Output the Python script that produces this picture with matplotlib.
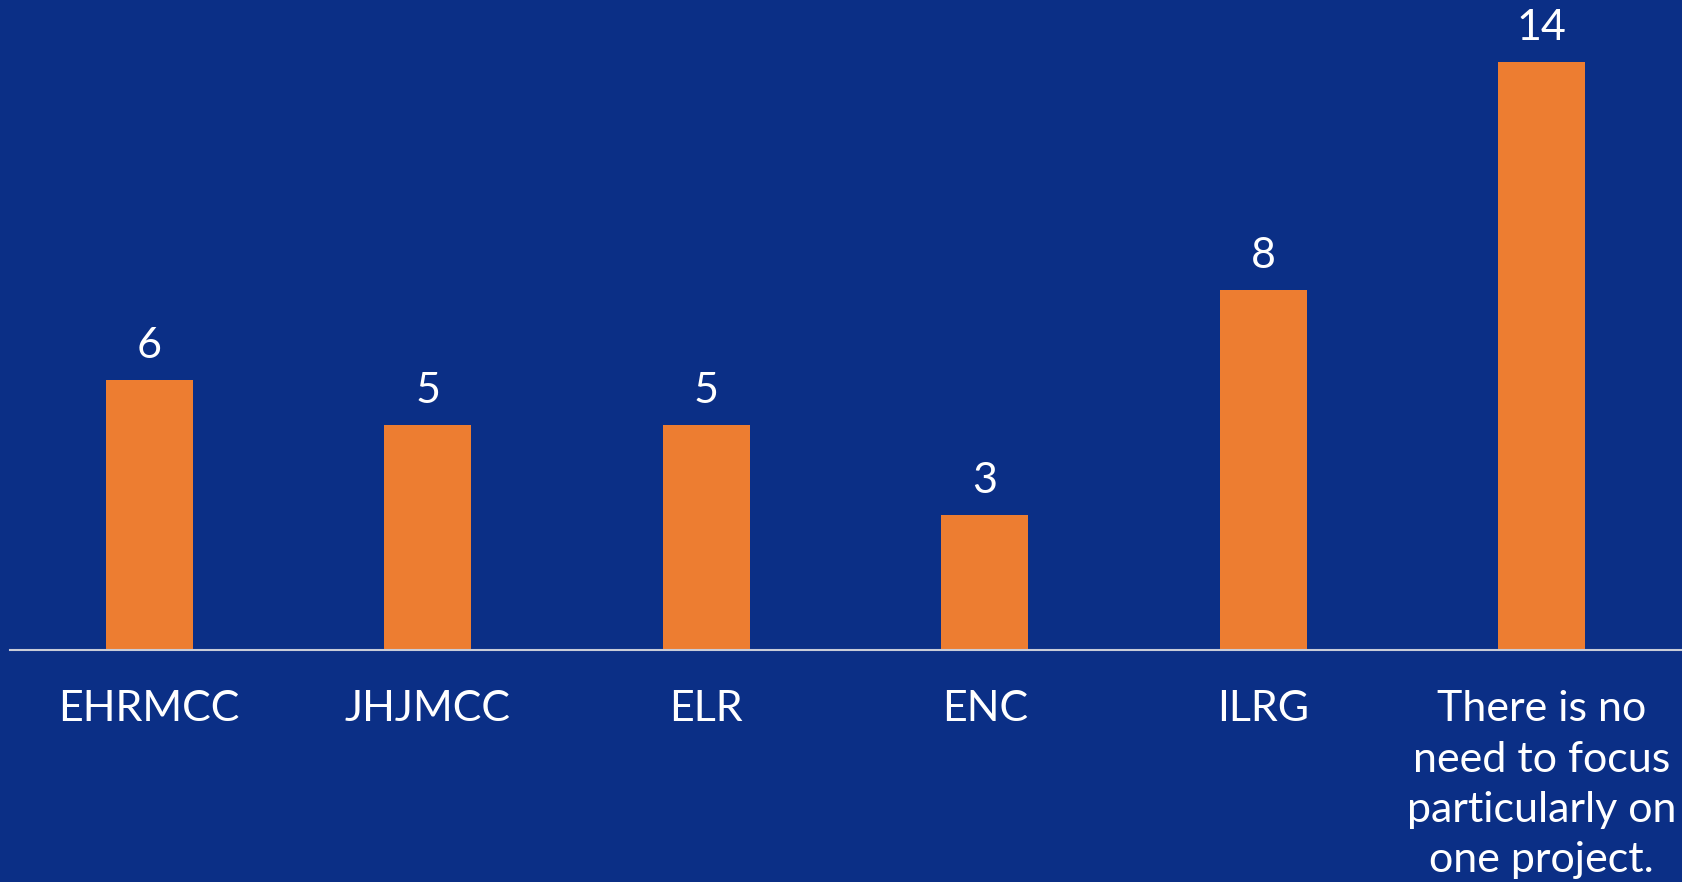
import matplotlib.pyplot as plt
import numpy as np

# chart data
categories = ["EHRMCC", "JHJMCC", "ELR", "ENC", "ILRG",
              "There is no\nneed to focus\nparticularly on\none project."]
values = [6, 5, 5, 3, 8, 14]

bg = "#0B2F86"
bar_color = "#ED7D31"

plt.rcParams['font.family'] = ['Lato', 'DejaVu Sans']

fig = plt.figure(figsize=(16.83, 8.82), dpi=100, facecolor=bg)
ax = fig.add_axes([10 / 1683, 232 / 882, 1671 / 1683, 588 / 882])
ax.set_facecolor(bg)

x = np.arange(len(categories))
ax.bar(x, values, width=0.312, color=bar_color, zorder=2)

ymax = 13.07
ax.set_ylim(0, ymax)
ax.set_xlim(-0.5, len(categories) - 0.5)

# value labels (the tallest bar is cut at the top of the plot)
for xi, v in zip(x, values):
    ax.annotate(str(v), (xi, min(v, ymax)), xytext=(0, 11), textcoords="offset points",
                ha="center", va="bottom", color="white", fontsize=31,
                annotation_clip=False)

ax.set_xticks(x)
ax.set_xticklabels(categories, color="white", fontsize=31, linespacing=1.4, va="top")
ax.tick_params(axis="x", length=0, pad=29)
ax.set_yticks([])

for s in ["top", "right", "left"]:
    ax.spines[s].set_visible(False)
ax.spines["bottom"].set_color("#C9CCD8")
ax.spines["bottom"].set_linewidth(1.5)

fig.savefig("out.png", dpi=100, facecolor=bg)
